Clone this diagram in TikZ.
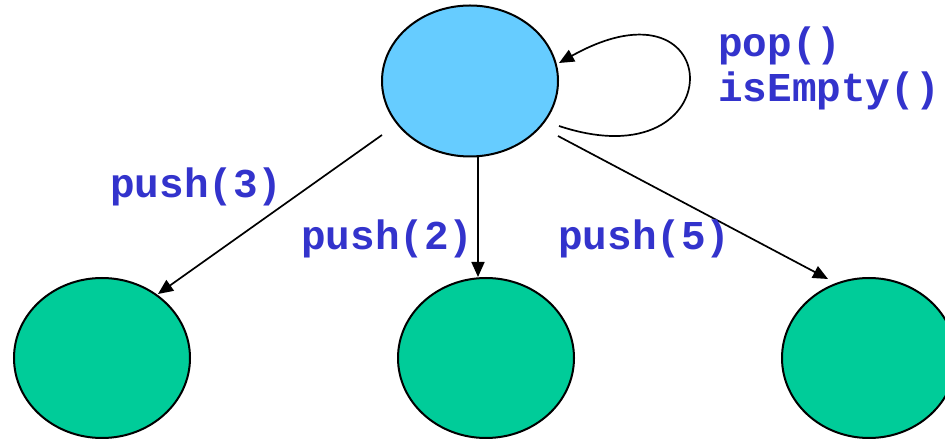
\documentclass[tikz,border=0pt]{standalone}
\usepackage{fontspec}
\newfontfamily\codefont{Liberation Mono}
\usetikzlibrary{arrows.meta,calc,shapes.geometric}

\definecolor{stackblue}{HTML}{66CCFF}
\definecolor{stackgreen}{HTML}{00CC99}
\definecolor{callblue}{HTML}{3333CC}

\tikzset{
  state/.style={ellipse, draw, line width=2pt, inner sep=0pt,
    minimum width=176pt, minimum height=160pt},
  call/.style={anchor=base west, inner sep=0pt, text=callblue,
    font={\codefont\bfseries\fontsize{41pt}{46pt}\selectfont}},
  trans/.style={->, line width=1.7pt},
  >={Triangle[length=15pt,width=13pt]}
}

\begin{document}
\begin{tikzpicture}[x=1pt,y=1pt]
\useasboundingbox (0,0) rectangle (945,441);

% states
\node[state, fill=stackblue, minimum height=151pt] (top) at (470,360) {};
\node[state, fill=stackgreen] (left) at (102,83) {};
\node[state, fill=stackgreen] (mid) at (486,83) {};
\node[state, fill=stackgreen, minimum width=174pt] (right) at (869,83) {};

% transitions
\draw[trans] ($(top)+(-88pt,-54pt)$) -- ($(left)+(56pt,64pt)$);
\draw[trans] ($(top)+(8pt,-76pt)$) -- ($(mid)+(-8pt,81pt)$);
\draw[trans] ($(top)+(88pt,-55pt)$) -- ($(right)+(-41pt,79pt)$);
\draw[trans] ([yshift=-45pt]top.east) .. controls +(175pt,-58pt) and +(170pt,95pt) .. ([yshift=18pt]top.east);

% labels
\node[call] (pushthree) at (110,243) {push(3)};
\node[call] (pushtwo) at (301,191) {push(2)};
\node[call] (pushfive) at (558,191) {push(5)};
\node[call] (pop) at (718,384) {pop()};
\node[call] (empty) at (718,339) {isEmpty()};

\end{tikzpicture}
\end{document}
